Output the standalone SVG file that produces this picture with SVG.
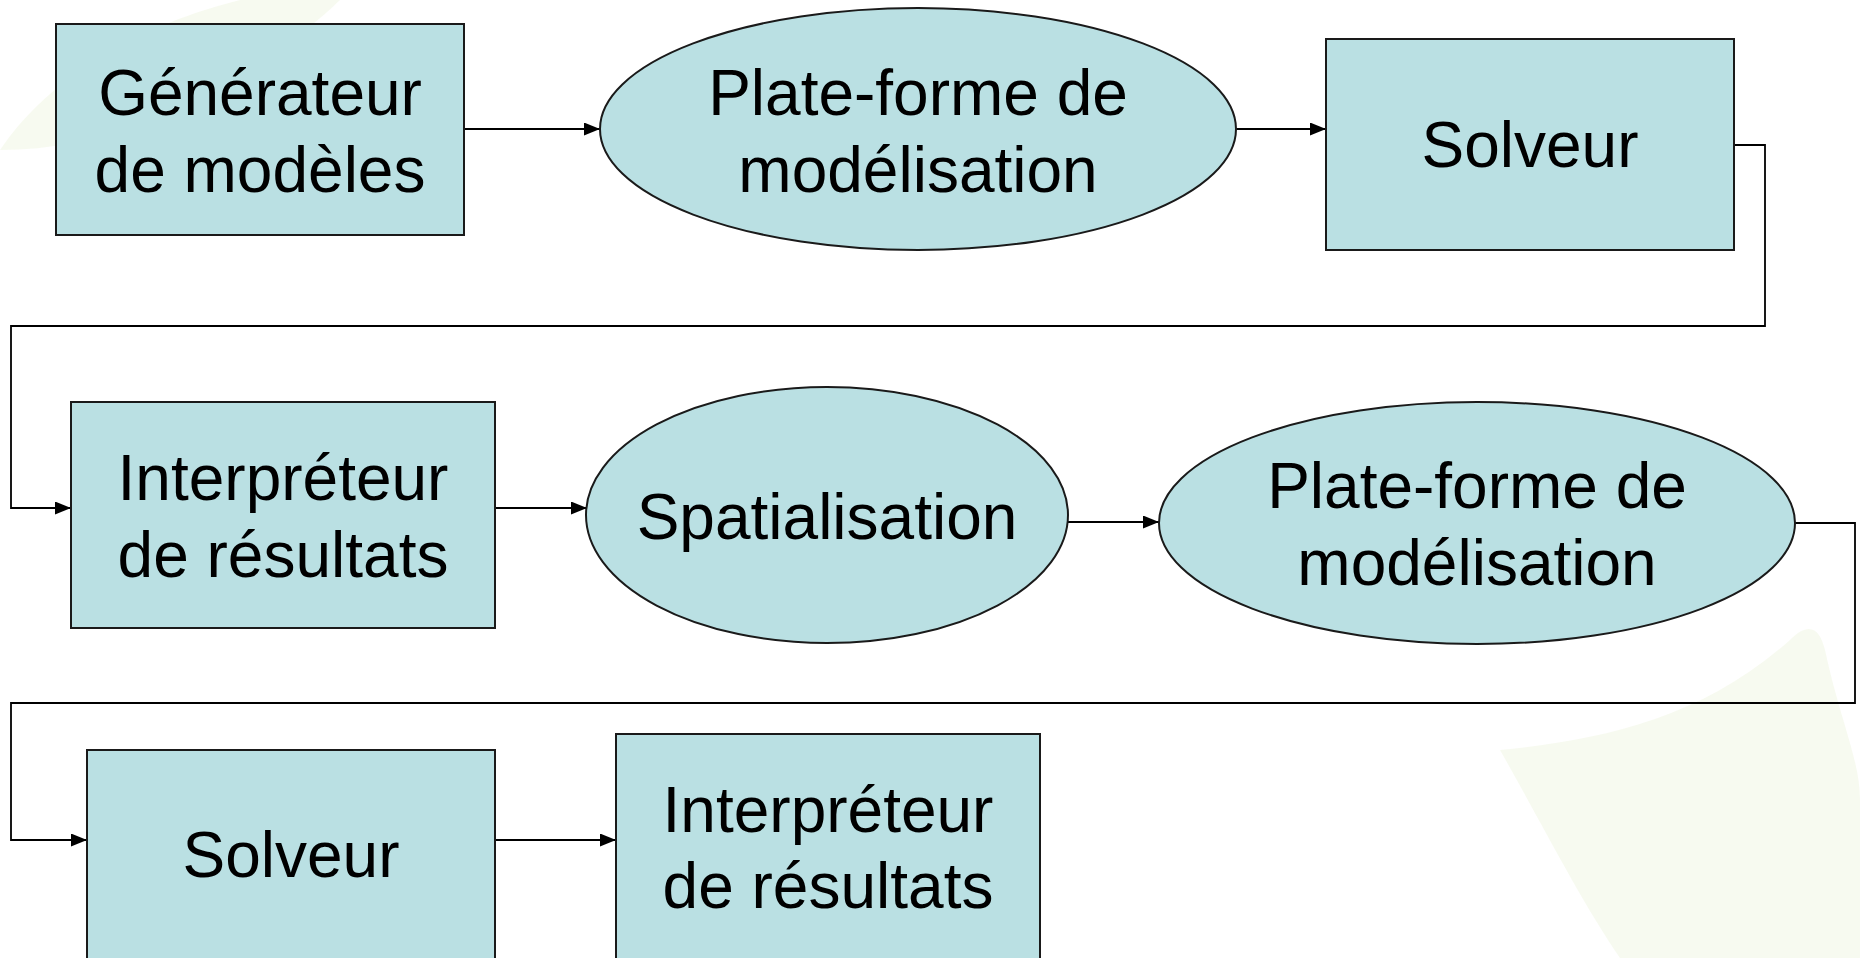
<svg xmlns="http://www.w3.org/2000/svg" width="1860" height="958" viewBox="0 0 1860 958">
  <style>
    .node { fill: #BAE0E3; stroke: #1a1a1a; stroke-width: 2; }
    .label { font-family: "Liberation Sans", Arial, sans-serif; font-size: 64px; fill: #000; text-anchor: middle; }
    .edge { fill: none; stroke: #000; stroke-width: 1.8; }
    .leaf { fill: #f1f7e6; opacity: 0.6; }
  </style>
  <defs>
    <marker id="arrow" markerWidth="16" markerHeight="13" refX="16" refY="6.5" orient="auto" markerUnits="userSpaceOnUse">
      <path d="M0,0 L16,6.5 L0,13 z" fill="#000"/>
    </marker>
  </defs>
  <rect width="1860" height="958" fill="#ffffff"/>
  <g id="background">
    <path class="leaf" d="M0,150 C40,90 120,30 240,0 L340,0 C300,40 220,90 150,120 C100,140 50,150 0,150 z"/>
    <path class="leaf" d="M1500,750 C1600,740 1700,720 1790,640 C1810,620 1820,630 1825,650 C1840,720 1860,760 1860,800 L1860,958 L1620,958 C1580,900 1540,820 1500,750 z"/>
  </g>
  <g id="connectors">
    <path class="edge" d="M464,129 H600" marker-end="url(#arrow)"/>
    <path class="edge" d="M1236,129 H1326" marker-end="url(#arrow)"/>
    <path class="edge" d="M1734,145 H1765 V326 H11 V508 H71" marker-end="url(#arrow)"/>
    <path class="edge" d="M495,508 H587" marker-end="url(#arrow)"/>
    <path class="edge" d="M1068,522 H1159" marker-end="url(#arrow)"/>
    <path class="edge" d="M1795,523 H1855 V703 H11 V840 H87" marker-end="url(#arrow)"/>
    <path class="edge" d="M495,840 H616" marker-end="url(#arrow)"/>
  </g>
  <g id="n1">
    <rect class="node" x="56" y="24" width="408" height="211"/>
    <text class="label" x="260" y="115">Générateur</text>
    <text class="label" x="260" y="192">de modèles</text>
  </g>
  <g id="n2">
    <ellipse class="node" cx="918" cy="129" rx="318" ry="121"/>
    <text class="label" x="918" y="115">Plate-forme de</text>
    <text class="label" x="918" y="192">modélisation</text>
  </g>
  <g id="n3">
    <rect class="node" x="1326" y="39" width="408" height="211"/>
    <text class="label" x="1530" y="167">Solveur</text>
  </g>
  <g id="n4">
    <rect class="node" x="71" y="402" width="424" height="226"/>
    <text class="label" x="283" y="500">Interpréteur</text>
    <text class="label" x="283" y="577">de résultats</text>
  </g>
  <g id="n5">
    <ellipse class="node" cx="827" cy="515" rx="241" ry="128"/>
    <text class="label" x="827" y="539">Spatialisation</text>
  </g>
  <g id="n6">
    <ellipse class="node" cx="1477" cy="523" rx="318" ry="121"/>
    <text class="label" x="1477" y="508">Plate-forme de</text>
    <text class="label" x="1477" y="585">modélisation</text>
  </g>
  <g id="n7">
    <rect class="node" x="87" y="750" width="408" height="211"/>
    <text class="label" x="291" y="877">Solveur</text>
  </g>
  <g id="n8">
    <rect class="node" x="616" y="734" width="424" height="226"/>
    <text class="label" x="828" y="832">Interpréteur</text>
    <text class="label" x="828" y="908">de résultats</text>
  </g>
</svg>
